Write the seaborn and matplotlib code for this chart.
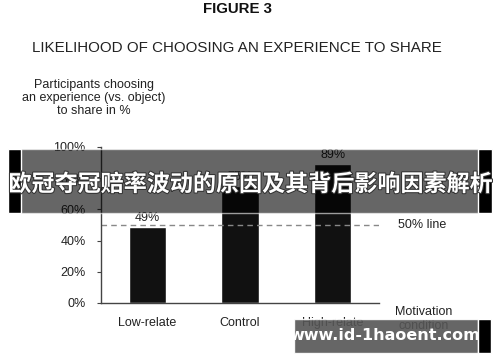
import pandas as pd
import seaborn as sns
import matplotlib.pyplot as plt
import matplotlib.patheffects as pe
from matplotlib.patches import Rectangle

# Data
conditions = ['Low-relate', 'Control', 'High-relate']
share_pct = [49, 75, 89]
y_ticks = [0, 20, 40, 60, 80, 100]
reference_line = 50

sns.set_style('white')
plt.rcParams['font.family'] = ['Liberation Sans', 'DejaVu Sans']

df = pd.DataFrame({'condition': conditions, 'pct': share_pct})

fig = plt.figure(figsize=(5, 3.62), dpi=100)
ax = fig.add_axes([0.202, 0.163, 0.556, 0.431])

sns.barplot(data=df, x='condition', y='pct', color='#111111', width=0.4,
            saturation=1, ax=ax)
ax.bar_label(ax.containers[0], fmt='%d%%', padding=2, fontsize=9, color='#222222')

# 50% reference line
ax.axhline(reference_line, color='#888888', lw=1, dashes=(4, 3))
ax.text(1.07, reference_line, '50% line', transform=ax.get_yaxis_transform(),
        va='center', ha='left', fontsize=9, color='#222222')

ax.set_xlim(-0.5, 2.5)
ax.set_ylim(0, 100)
ax.set_yticks(y_ticks)
ax.set_yticklabels([f'{t}%' for t in y_ticks], fontsize=9, color='#222222')
ax.set_xticks(range(len(conditions)))
ax.set_xticklabels(conditions, fontsize=9, color='#222222')
ax.set_xticks([0.5, 1.5, 2.5], minor=True)
ax.tick_params(axis='x', which='major', length=0, pad=10)
ax.tick_params(axis='x', which='minor', direction='in', length=3, color='#444444')
ax.tick_params(axis='y', direction='out', length=3, left=True, color='#444444', pad=8)
ax.set_xlabel('')
ax.set_ylabel('')
for side in ['top', 'right']:
    ax.spines[side].set_visible(False)
for side in ['left', 'bottom']:
    ax.spines[side].set_color('#444444')
    ax.spines[side].set_linewidth(1)

# Titles
fig.text(0.474, 0.975, 'FIGURE 3', ha='center', va='center', fontsize=10.8,
         fontweight='bold', color='#111111')
fig.text(0.474, 0.868, 'LIKELIHOOD OF CHOOSING AN EXPERIENCE TO SHARE',
         ha='center', va='center', fontsize=10.9, color='#222222')
fig.text(0.188, 0.73, 'Participants choosing\nan experience (vs. object)\nto share in %',
         ha='center', va='center', fontsize=9, color='#222222', linespacing=1.1)
fig.text(0.848, 0.118, 'Motivation\ncondition', ha='center', va='center',
         fontsize=9, color='#222222', linespacing=1.2)

# Overlay banner
fig.patches.append(Rectangle((0.016, 0.412), 0.968, 0.177, transform=fig.transFigure,
                             facecolor='black', alpha=0.6, zorder=10))
fig.patches.append(Rectangle((0.016, 0.412), 0.026, 0.177, transform=fig.transFigure,
                             facecolor='black', zorder=11))
fig.patches.append(Rectangle((0.956, 0.412), 0.028, 0.177, transform=fig.transFigure,
                             facecolor='black', zorder=11))
fig.text(0.5, 0.49, '欧冠夺冠赔率波动的原因及其背后影响因素解析', ha='center', va='center',
         fontsize=16.6, fontweight='bold', color='white', zorder=12,
         family=['Noto Sans CJK SC', 'DejaVu Sans'],
         path_effects=[pe.withStroke(linewidth=1.5, foreground='#333333')])

# Watermark box
fig.patches.append(Rectangle((0.588, 0.025), 0.368, 0.094, transform=fig.transFigure,
                             facecolor='#555555', alpha=0.9, zorder=10))
fig.patches.append(Rectangle((0.956, 0.025), 0.026, 0.094, transform=fig.transFigure,
                             facecolor='black', zorder=11))
fig.text(0.77, 0.072, 'www.id-1haoent.com', ha='center', va='center', fontsize=11.5,
         fontweight='bold', color='white', zorder=12, family=['DejaVu Sans'])

fig.savefig('out.png', dpi=100)
